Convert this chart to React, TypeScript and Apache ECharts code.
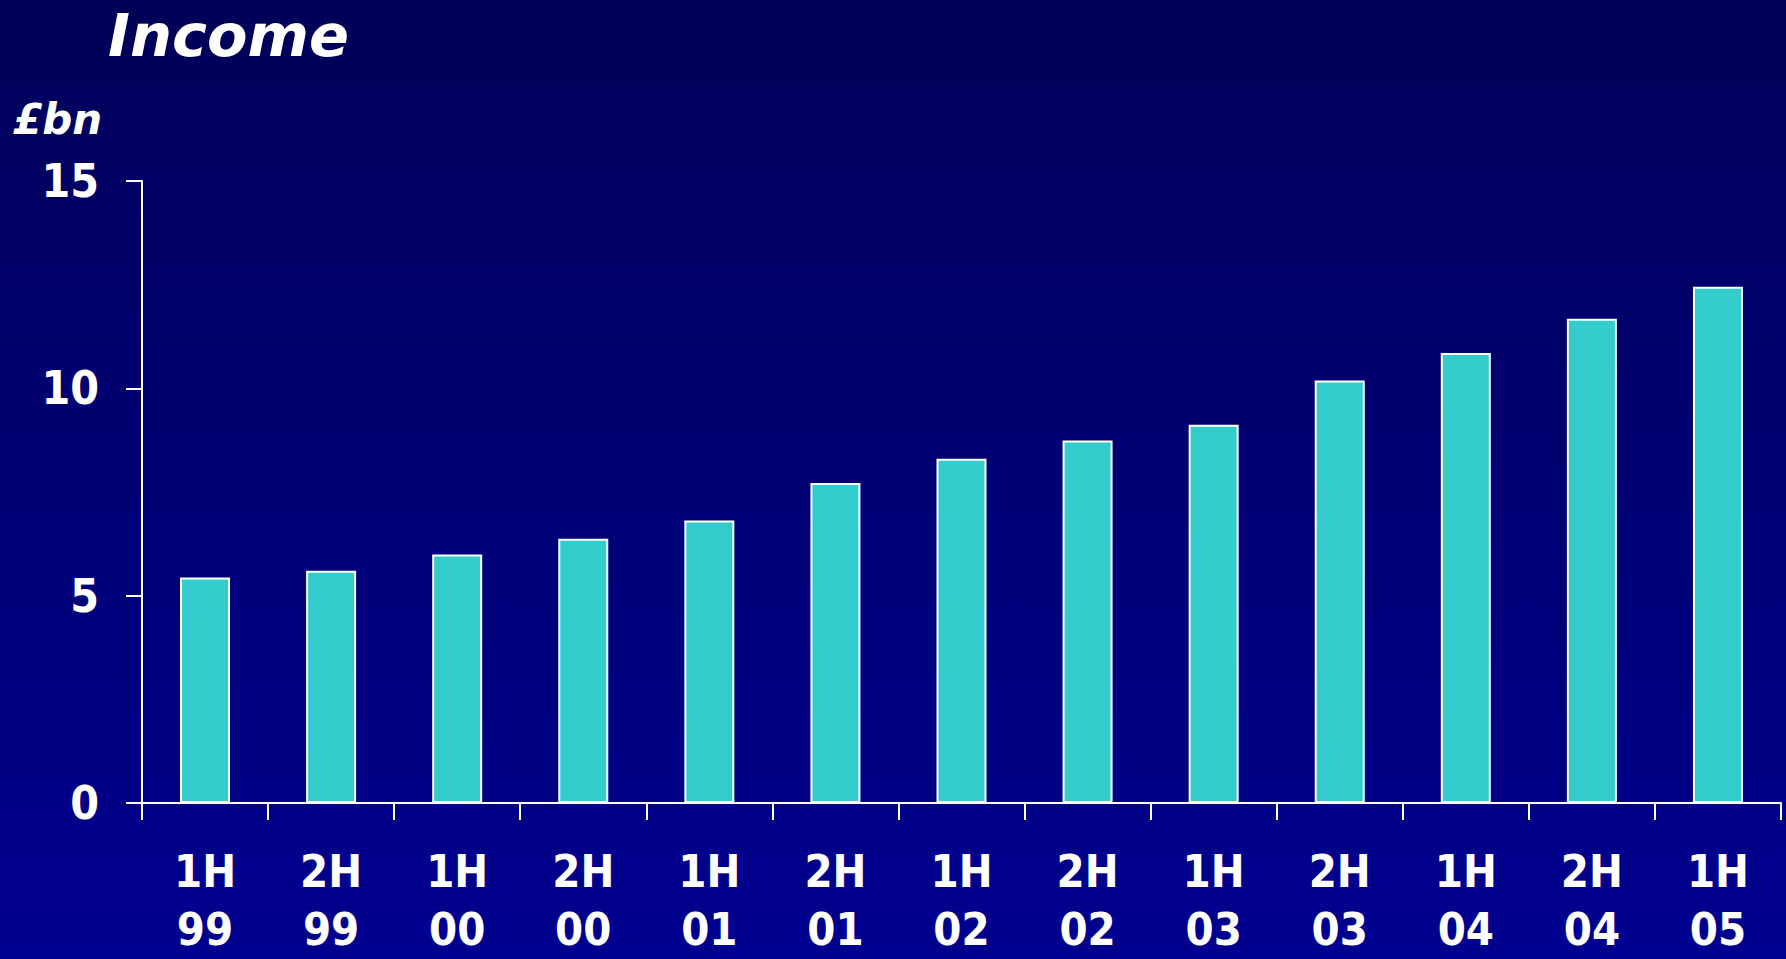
import React, { useEffect, useRef } from "react";
import * as echarts from "echarts";

const categories = ["1H\n99", "2H\n99", "1H\n00", "2H\n00", "1H\n01", "2H\n01", "1H\n02", "2H\n02", "1H\n03", "2H\n03", "1H\n04", "2H\n04", "1H\n05"];
const income = [5.44, 5.6, 5.99, 6.37, 6.81, 7.72, 8.3, 8.74, 9.12, 10.19, 10.85, 11.68, 12.45];
const yTicks = [0, 5, 10, 15];

const FONT = "'DejaVu Sans Condensed', 'DejaVu Sans', sans-serif";
const WIDE = "'DejaVu Sans', sans-serif";

export default function App() {
  const ref = useRef<HTMLDivElement>(null);
  useEffect(() => {
    document.body.style.margin = "0";
    const chart = echarts.init(ref.current!, null, { renderer: "svg" });
    chart.setOption({
      animation: false,
      backgroundColor: new echarts.graphic.LinearGradient(0, 0, 0, 1, [
        { offset: 0, color: "#000058" },
        { offset: 1, color: "#000090" },
      ]),
      title: [
        {
          text: "Income",
          left: 108,
          top: 0,
          padding: 0,
          textStyle: { color: "#ffffff", fontFamily: WIDE, fontStyle: "italic", fontWeight: "bold", fontSize: 59, lineHeight: 70 },
        },
        {
          text: "£bn",
          left: 13,
          top: 96,
          padding: 0,
          textStyle: { color: "#ffffff", fontFamily: WIDE, fontStyle: "italic", fontWeight: "bold", fontSize: 42, lineHeight: 46 },
        },
      ],
      grid: { left: 142, right: 5, top: 181, bottom: 156, containLabel: false, outerBoundsMode: "none" },
      xAxis: {
        type: "category",
        data: categories,
        boundaryGap: true,
        axisLine: { lineStyle: { color: "#ffffff", width: 2 } },
        axisTick: { show: true, length: 17, alignWithLabel: false, lineStyle: { color: "#ffffff", width: 2 } },
        axisLabel: {
          color: "#ffffff",
          fontFamily: FONT,
          fontWeight: "bold",
          fontSize: 45,
          lineHeight: 58,
          margin: 39,
          interval: 0,
        },
        splitLine: { show: false },
      },
      yAxis: {
        type: "value",
        min: 0,
        max: 15,
        interval: 5,
        axisLine: { show: true, lineStyle: { color: "#ffffff", width: 2 } },
        axisTick: { show: true, length: 16, lineStyle: { color: "#ffffff", width: 2 } },
        axisLabel: {
          color: "#ffffff",
          fontFamily: FONT,
          fontWeight: "bold",
          fontSize: 46,
          margin: 43,
          formatter: (v: number) => (yTicks.includes(v) ? String(v) : ""),
        },
        splitLine: { show: false },
      },
      series: [
        {
          type: "bar",
          data: income,
          barWidth: 50,
          itemStyle: { color: "#33cccc", borderColor: "#ffffff", borderWidth: 2 },
        },
      ],
    });
    return () => chart.dispose();
  }, []);
  return <div ref={ref} style={{ width: 1786, height: 959 }} />;
}
